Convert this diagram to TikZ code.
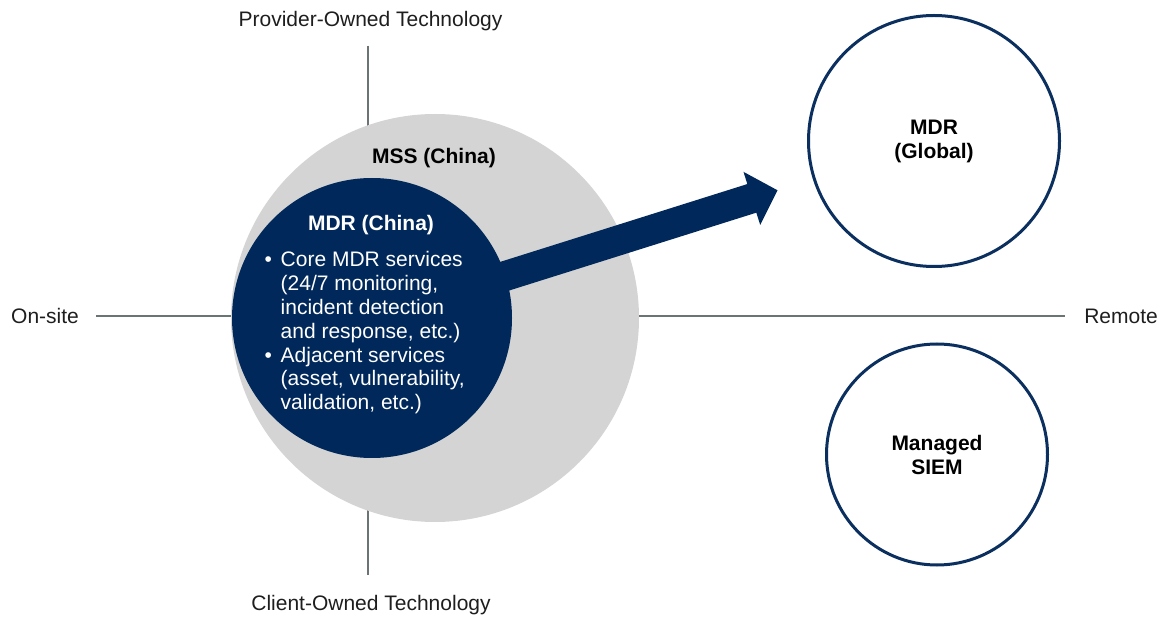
\documentclass[tikz,border=0pt]{standalone}
\usepackage{fontspec}
\setmainfont{Liberation Sans}
\usepackage{xcolor}
\definecolor{navy}{HTML}{00285A}
\definecolor{rim}{HTML}{0B2F5E}
\definecolor{mist}{HTML}{D4D4D4}
\definecolor{axisgray}{HTML}{6B7474}
\definecolor{ink}{HTML}{1E1E1E}
\usetikzlibrary{arrows.meta}
\newcommand{\bul}{\makebox[16pt][l]{\textbullet}}
\newcommand{\ind}{\hspace*{16pt}}

\begin{document}
\begin{tikzpicture}[x=1pt,y=-1pt,
  lbl/.style={font=\fontsize{21}{24}\selectfont,text=ink,inner sep=0pt},
  ttl/.style={font=\fontsize{21}{24}\selectfont\bfseries,inner sep=0pt,align=center},
  ring/.style={circle,draw=rim,line width=3pt,fill=white,inner sep=0pt},
  axisline/.style={axisgray,line width=2pt}]
  \useasboundingbox (0,0) rectangle (1165,617);
  \coordinate (org) at (368,316);
  \node[lbl,anchor=base] (prov) at (370.5,27) {Provider-Owned Technology};
  \node[lbl,anchor=base] (client) at (371,610) {Client-Owned Technology};
  \node[lbl,anchor=base west] (onsite) at (11,324) {On-site};
  \node[lbl,anchor=base east] (remote) at (1158,324) {Remote};
  \draw[axisline,shorten <=17pt,shorten >=19pt] (onsite.east |- org) -- (remote.west |- org);
  \draw[axisline,shorten <=14pt,shorten >=20pt] (org |- prov.south) -- (org |- client.north);
  \node[circle,fill=mist,minimum size=408pt,inner sep=0pt] (mss) at (435,318) {};
  \node[ttl,anchor=base] (msslbl) at (434,164) {MSS (China)};
  \node[circle,fill=navy,minimum size=280pt,inner sep=0pt] (mdrcn) at (372,318) {};
  \node[ttl,text=white,anchor=base] (cntitle) at (371,231) {MDR (China)};
  \node[lbl,text=white,font=\fontsize{21}{23.8}\selectfont,anchor=base west] (cnlist) at (264.5,267) {\parbox[t]{240pt}{\bul Core MDR services\\
    \ind(24/7 monitoring,\\ \ind incident detection\\ \ind and response, etc.)\\
    \bul Adjacent services\\ \ind(asset, vulnerability,\\ \ind validation, etc.)}};
  \node[ring,ttl,minimum size=251pt] (mdrgl) at (934,141) {MDR\\(Global)};
  \node[ring,ttl,minimum size=221pt] (siem) at (937,454.5) {Managed\\SIEM};
  \draw[navy,line width=30pt,-{Triangle[length=27pt,width=54pt]},shorten <=125pt,shorten >=164pt] (mdrcn.center) -- (mdrgl.center);
\end{tikzpicture}
\end{document}
